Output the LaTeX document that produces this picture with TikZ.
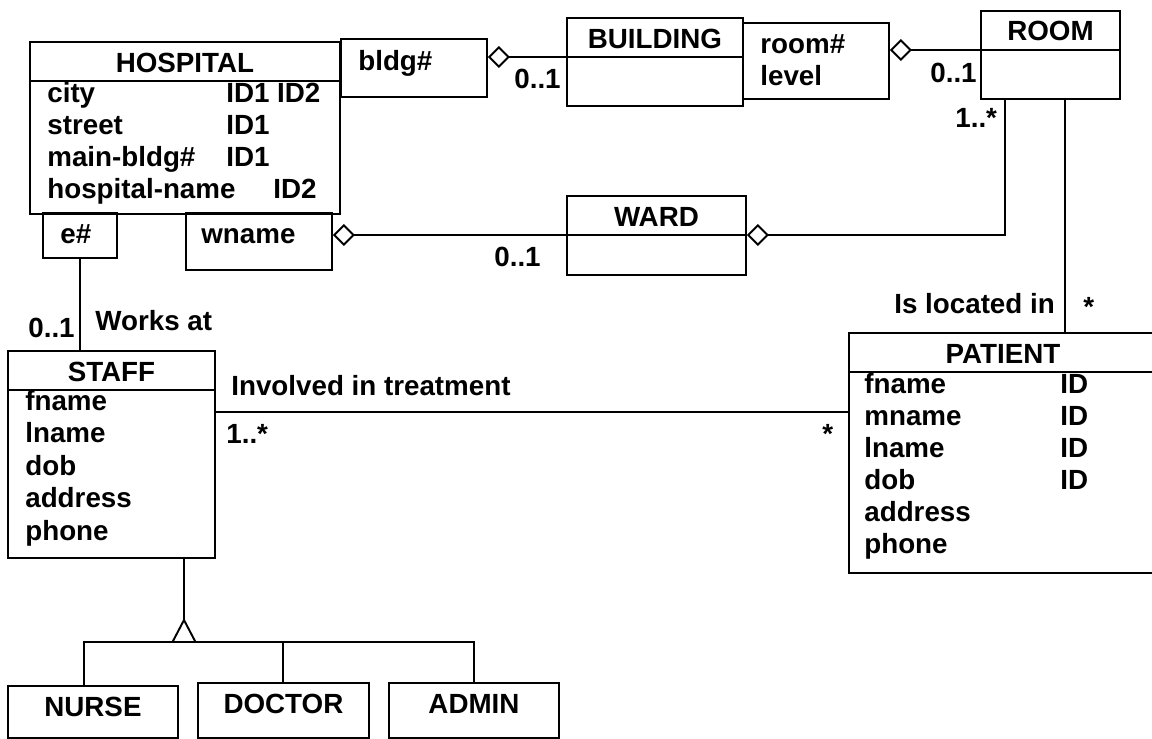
\documentclass[tikz,border=0pt]{standalone}
\usepackage{fontspec}
\setmainfont{Liberation Sans}
\usetikzlibrary{arrows.meta}

\tikzset{
  box/.style={draw, line width=1.1pt, inner sep=0pt, anchor=north west},
  txt/.style={inner sep=0pt, anchor=base west, font=\fontsize{15.8}{19}\selectfont\bfseries},
  title/.style={txt, anchor=base},
  link/.style={line width=1.1pt},
  agg/.style={link, {Diamond[open, length=0.44cm, width=0.44cm]}-},
}

\begin{document}
\begin{tikzpicture}[x=0.02cm, y=-0.02cm]
        \useasboundingbox (0,0) rectangle (1152,738);

        \node[box, minimum width=6.20cm, minimum height=3.44cm] (hosp) at (29,41) {};
        \node[box, minimum width=2.92cm, minimum height=1.16cm] (bldgkey) at (340,38) {};
        \node[box, minimum width=3.52cm, minimum height=1.76cm] (bldg) at (566,17) {};
        \node[box, minimum width=2.92cm, minimum height=1.52cm] (roomkey) at (742,22) {};
        \node[box, minimum width=2.78cm, minimum height=1.76cm] (room) at (980,10) {};
        \node[box, minimum width=3.58cm, minimum height=1.58cm] (ward) at (566,195) {};
        \node[box, minimum width=2.92cm, minimum height=1.14cm] (wkey) at (185,212) {};
        \node[box, minimum width=1.48cm, minimum height=0.90cm] (ekey) at (42,212) {};
        \node[box, minimum width=4.14cm, minimum height=4.14cm] (staff) at (7,350) {};
        \node[box, minimum width=6.16cm, minimum height=4.80cm] (patient) at (848,332) {};
        \node[box, minimum width=3.40cm, minimum height=1.04cm] (nurse) at (7,685) {};
        \node[box, minimum width=3.42cm, minimum height=1.10cm] (doctor) at (197,682) {};
        \node[box, minimum width=3.40cm, minimum height=1.10cm] (admin) at (388,682) {};

        \foreach \b in {hosp,bldg,room,ward,staff,patient}
            \draw[link] ([yshift=-0.8cm]\b.north west) coordinate (\b-h) -- ([yshift=-0.8cm]\b.north east);

        \foreach \b/\t in {hosp/HOSPITAL, bldg/BUILDING, room/ROOM, ward/WARD, staff/STAFF,
                           patient/PATIENT, nurse/NURSE, doctor/DOCTOR, admin/ADMIN}
            \node[title] (\b-t) at ([yshift=-0.62cm]\b.north) {\t};

        \foreach \a/\k [count=\i] in {city/ID1 ID2, street/ID1, main-bldg\#/ID1}
        {
            \node[txt] (ha\i) at (47,70.5+32*\i) {\a};
            \node[txt] (hk\i) at (226,70.5+32*\i) {\k};
        }
        \node[txt] (ha4) at (47,198.5) {hospital-name};
        \node[txt] (hk4) at (273,198.5) {ID2};

        \foreach \a [count=\i from 0] in {fname, lname, dob, address, phone}
            \node[txt] (sa\i) at (25,410+32.5*\i) {\a};

        \foreach \a [count=\i from 0] in {fname, mname, lname, dob, address, phone}
            \node[txt] (pa\i) at (864,393+32*\i) {\a};
        \foreach \i in {0,...,3}
            \node[txt] (pk\i) at (1060,393+32*\i) {ID};

        \node[txt] (bldgkey-t) at (358,70) {bldg\#};
        \node[txt] (roomkey-t1) at (760,53) {room\#};
        \node[txt] (roomkey-t2) at (760,85) {level};
        \node[txt] (wkey-t) at (201,243) {wname};
        \node[txt] (ekey-t) at (60,243) {e\#};

        \draw[agg] (bldgkey.east |- bldg-h) -- (bldg-h);
        \draw[agg] (roomkey.east |- room-h) -- (room-h);
        \draw[agg] (wkey.east |- ward-h) -- (ward-h);
        \draw[agg] (ward-h -| ward.east) -| ([xshift=0.5cm]room.south west);
        \draw[link] ([xshift=1.7cm]room.south west) -- ([xshift=1.7cm]room.south west |- patient.north);
        \draw[link] (ekey.south) -- (ekey.south |- staff.north);
        \draw[link] ([yshift=-1.24cm]staff.north east) -- ([yshift=-1.24cm]staff.north east -| patient.west);

        \coordinate (gen) at (184,642);
        \draw[link, line join=miter] (gen) ++(-11.5,0) -- ++(11.5,-22) -- ++(11.5,22) -- cycle;
        \draw[link] (gen) ++(0,-22) -- (gen |- staff.south);
        \draw[link] ([xshift=1.54cm]nurse.north west) |- (gen) -| (admin.north);
        \draw[link] (doctor.north) -- (doctor.north |- gen);

        \node[txt] (m1) at (514,88) {0..1};
        \node[txt] (m2) at (930,82) {0..1};
        \node[txt] (m3) at (955,127) {1..*};
        \node[txt] (m4) at (494,266) {0..1};
        \node[txt] (m5) at (28,337) {0..1};
        \node[txt] (works) at (95,330) {Works at};
        \node[txt] (involved) at (231,395) {Involved in treatment};
        \node[txt] (m6) at (226,443) {1..*};
        \node[txt] (m7) at (822,443) {*};
        \node[txt] (located) at (894,313) {Is located in};
        \node[txt] (m8) at (1083,316) {*};
    \end{tikzpicture}
\end{document}
